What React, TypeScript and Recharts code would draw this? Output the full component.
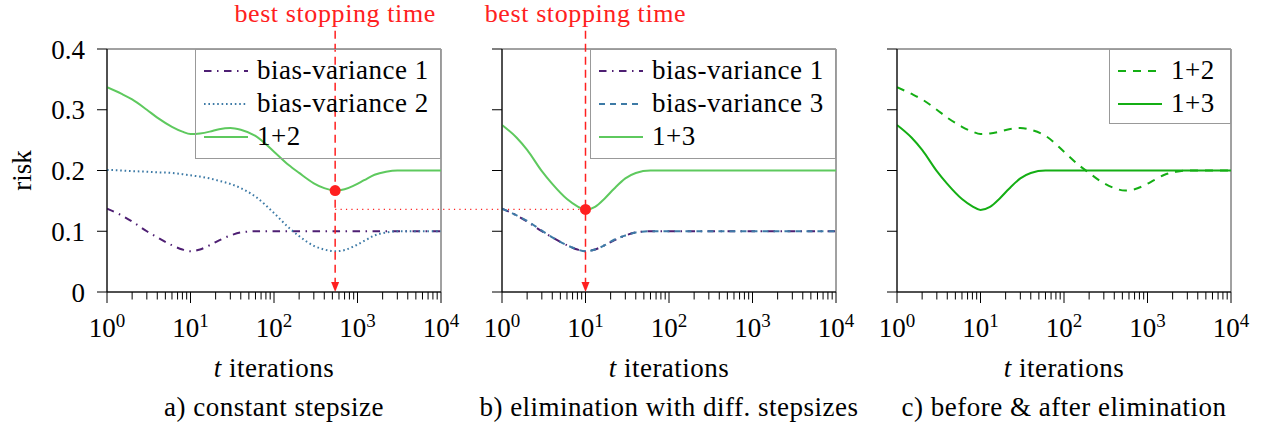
import {
    LineChart,
    Line,
    XAxis,
    YAxis,
    Label,
    Legend,
    ReferenceArea,
    ReferenceLine,
    ReferenceDot,
} from "recharts";

// sample points along the log-scaled iteration axis
const tValues = [
    1, 1.5, 2, 3, 4, 6, 8, 10, 13, 17, 22, 30, 40, 60, 100, 150, 200, 300,
    400, 540, 700, 900, 1200, 1600, 2200, 3000, 5000, 10000,
];

const biasVar1 = [
    0.137, 0.126, 0.116, 0.1, 0.09, 0.077, 0.07, 0.067, 0.07, 0.077, 0.085,
    0.093, 0.098, 0.1, 0.1, 0.1, 0.1, 0.1, 0.1, 0.1, 0.1, 0.1, 0.1, 0.1, 0.1,
    0.1, 0.1, 0.1,
];

const biasVar2 = [
    0.201, 0.2, 0.199, 0.198, 0.197, 0.196, 0.194, 0.192, 0.19, 0.187, 0.183,
    0.178, 0.171, 0.157, 0.13, 0.106, 0.092, 0.076, 0.07, 0.067, 0.069, 0.075,
    0.084, 0.093, 0.098, 0.1, 0.1, 0.1,
];

const sum12 = [
    0.337, 0.326, 0.317, 0.3, 0.287, 0.272, 0.264, 0.26, 0.261, 0.264, 0.268,
    0.27, 0.267, 0.257, 0.231, 0.209, 0.196, 0.179, 0.171, 0.167, 0.169,
    0.175, 0.184, 0.193, 0.198, 0.2, 0.2, 0.2,
];

const biasVar3 = [
    0.137, 0.126, 0.117, 0.101, 0.09, 0.077, 0.07, 0.067, 0.07, 0.077, 0.086,
    0.093, 0.098, 0.1, 0.1, 0.1, 0.1, 0.1, 0.1, 0.1, 0.1, 0.1, 0.1, 0.1, 0.1,
    0.1, 0.1, 0.1,
];

const sum13 = [
    0.275, 0.254, 0.234, 0.199, 0.178, 0.153, 0.141, 0.135, 0.14, 0.154, 0.17,
    0.187, 0.196, 0.2, 0.2, 0.2, 0.2, 0.2, 0.2, 0.2, 0.2, 0.2, 0.2, 0.2, 0.2,
    0.2, 0.2, 0.2,
];

const yTicks = [0, 0.1, 0.2, 0.3, 0.4];
const majorTicks = [1, 10, 100, 1000, 10000];
const minorSteps = [2, 3, 4, 5, 6, 7, 8, 9];
const xTicks = majorTicks.flatMap((d) =>
    d < 10000 ? [d, ...minorSteps.map((k) => k * d)] : [d]
);

// best stopping times (a: 1+2, b: 1+3)
const stopA = { t: 540, risk: 0.167 };
const stopB = { t: 10, risk: 0.136 };
const linkEndT = 5.2e5; // dotted link runs over into panel b

const data = tValues.map((t, i) => ({
    t,
    bv1: biasVar1[i],
    bv2: biasVar2[i],
    sum12: sum12[i],
    bv3: biasVar3[i],
    sum13: sum13[i],
}));

const FONT = "'Liberation Serif', 'Times New Roman', serif";
const RED = "#ff2020";
const PURPLE = "#4e1f73";
const BLUE = "#3d7aa6";
const GREEN = "#5ec95e";
const DARK_GREEN = "#14ae14";

const TOP = 49;
const PLOT_W = 334;
const PLOT_H = 243;
const PAD_L = 47;
const AXIS_W = 60;
const H = 430;

type LegendItem = { label: string; color: string; dash?: string };

function LogTick(props: any) {
    const { x, y, payload } = props;
    const lg = Math.log10(payload.value);
    const e = Math.round(lg);
    const major = Math.abs(lg - e) < 1e-9;
    return (
        <g>
            <line x1={x} x2={x} y1={y} y2={y + (major ? 11 : 7.5)} stroke="#000" />
            {major && (
                <text x={x} y={y + 45} textAnchor="middle" fontSize={27} fill="#000">
                    <tspan>10</tspan>
                    <tspan dy={-10} fontSize={19}>
                        {e}
                    </tspan>
                </text>
            )}
        </g>
    );
}

function NoTick() {
    return <g />;
}

function StopShape(props: any) {
    const x = props.x1;
    const top = Math.min(props.y1, props.y2);
    const bottom = Math.max(props.y1, props.y2);
    return (
        <g>
            <text
                x={x}
                y={top - 9}
                textAnchor="middle"
                fill={RED}
                fontSize={26}
                letterSpacing={0.6}
            >
                best stopping time
            </text>
            <line
                x1={x}
                x2={x}
                y1={top}
                y2={bottom - 9}
                stroke={RED}
                strokeWidth={1.5}
                strokeDasharray="8 5"
            />
            <polygon
                points={`${x - 4},${bottom - 10} ${x + 4},${bottom - 10} ${x},${bottom}`}
                fill={RED}
            />
        </g>
    );
}

function legendBox(items: LegendItem[], w: number, h: number) {
    return () => (
        <svg width={w} height={h} style={{ display: "block", overflow: "visible" }}>
            <rect x={0.5} y={0.5} width={w - 1} height={h - 1} fill="none" stroke="#999" />
            {items.map((it, i) => {
                const cy = 22 + i * 33;
                return (
                    <g key={it.label}>
                        <line
                            x1={9}
                            x2={53}
                            y1={cy}
                            y2={cy}
                            stroke={it.color}
                            strokeWidth={2}
                            strokeDasharray={it.dash}
                        />
                        <text
                            x={62}
                            y={cy + 8}
                            fontSize={27}
                            letterSpacing={0.5}
                            fill="#000"
                            fontFamily={FONT}
                        >
                            {it.label}
                        </text>
                    </g>
                );
            })}
        </svg>
    );
}

function xLabel(caption: string) {
    return (props: any) => {
        const { x, y, width } = props.viewBox;
        const cx = x + width / 2;
        return (
            <g>
                <text x={cx} y={y + 85} textAnchor="middle" fontSize={27} fill="#000" letterSpacing={0.5}>
                    <tspan fontStyle="italic">t</tspan> iterations
                </text>
                <text x={cx} y={y + 124} textAnchor="middle" fontSize={27} fill="#000" letterSpacing={0.5}>
                    {caption}
                </text>
            </g>
        );
    };
}

function riskLabel(props: any) {
    const { y, height } = props.viewBox;
    const cy = y + height / 2;
    return (
        <text
            x={31}
            y={cy}
            transform={`rotate(-90 31 ${cy})`}
            textAnchor="middle"
            fontSize={27}
            fill="#000"
        >
            risk
        </text>
    );
}

type PanelProps = {
    width: number;
    caption: string;
    yLabels?: boolean;
    legend: LegendItem[];
    legendLeft: number;
    legendHeight: number;
    children?: React.ReactNode;
};

function Panel({
    width,
    caption,
    yLabels,
    legend,
    legendLeft,
    legendHeight,
    children,
}: PanelProps) {
    const right = width - PAD_L - AXIS_W - PLOT_W;
    const legendW = PAD_L + AXIS_W + PLOT_W - legendLeft;
    return (
        <LineChart
            width={width}
            height={H}
            data={data}
            margin={{ top: TOP, left: PAD_L, right, bottom: 0 }}
        >
            <XAxis
                dataKey="t"
                type="number"
                scale="log"
                domain={[1, 10000]}
                ticks={xTicks}
                interval={0}
                tickSize={0}
                tickMargin={0}
                tick={<LogTick />}
                axisLine={{ stroke: "#000" }}
                height={H - TOP - PLOT_H}
                allowDataOverflow
            >
                <Label content={xLabel(caption)} />
            </XAxis>
            <YAxis
                type="number"
                domain={[0, 0.4]}
                ticks={yTicks}
                interval={0}
                width={AXIS_W}
                tickSize={10}
                tickMargin={12}
                tickLine={{ stroke: "#000" }}
                axisLine={{ stroke: "#000" }}
                tick={yLabels ? { fill: "#000", fontSize: 27 } : <NoTick />}
                allowDataOverflow
            >
                {yLabels && <Label content={riskLabel} />}
            </YAxis>
            <ReferenceArea
                x1={1}
                x2={10000}
                y1={0}
                y2={0.4}
                fill="none"
                stroke="#444"
                strokeWidth={1}
            />
            <Legend
                layout="vertical"
                align="center"
                verticalAlign="middle"
                wrapperStyle={{
                    left: legendLeft,
                    top: TOP,
                    width: legendW,
                    height: legendHeight,
                }}
                content={legendBox(legend, legendW, legendHeight)}
            />
            {children}
        </LineChart>
    );
}

export default function App() {
    return (
        <div
            style={{
                position: "absolute",
                left: 0,
                top: 0,
                width: 1265,
                height: H,
                background: "#fff",
                fontFamily: FONT,
            }}
        >
            <div style={{ position: "absolute", left: 0, top: 0 }}>
                <Panel
                    width={600}
                    caption="a) constant stepsize"
                    yLabels
                    legendLeft={195}
                    legendHeight={110}
                    legend={[
                        { label: "bias-variance 1", color: PURPLE, dash: "7.5 5.5 1.5 5.5" },
                        { label: "bias-variance 2", color: BLUE, dash: "1.6 2.8" },
                        { label: "1+2", color: GREEN },
                    ]}
                >
                    <Line type="monotone" dataKey="bv1" stroke={PURPLE} strokeWidth={2} strokeDasharray="7.5 5.5 1.5 5.5" dot={false} isAnimationActive={false} />
                    <Line type="monotone" dataKey="bv2" stroke={BLUE} strokeWidth={2} strokeDasharray="1.6 2.8" dot={false} isAnimationActive={false} />
                    <Line type="monotone" dataKey="sum12" stroke={GREEN} strokeWidth={2} dot={false} isAnimationActive={false} />
                    <ReferenceLine
                        segment={[
                            { x: stopA.t, y: stopB.risk },
                            { x: linkEndT, y: stopB.risk },
                        ]}
                        stroke={RED}
                        strokeWidth={1.2}
                        strokeDasharray="1.2 4.2"
                        ifOverflow="visible"
                    />
                    <ReferenceLine
                        segment={[
                            { x: stopA.t, y: 0 },
                            { x: stopA.t, y: 0.43 },
                        ]}
                        ifOverflow="visible"
                        shape={<StopShape />}
                    />
                    <ReferenceDot x={stopA.t} y={stopA.risk} r={5.5} fill={RED} stroke="none" ifOverflow="visible" />
                </Panel>
            </div>
            <div style={{ position: "absolute", left: 395, top: 0 }}>
                <Panel
                    width={490}
                    caption="b) elimination with diff. stepsizes"
                    legendLeft={195}
                    legendHeight={110}
                    legend={[
                        { label: "bias-variance 1", color: PURPLE, dash: "7.5 5.5 1.5 5.5" },
                        { label: "bias-variance 3", color: BLUE, dash: "6 5" },
                        { label: "1+3", color: GREEN },
                    ]}
                >
                    <Line type="monotone" dataKey="bv1" stroke={PURPLE} strokeWidth={2} strokeDasharray="7.5 5.5 1.5 5.5" dot={false} isAnimationActive={false} />
                    <Line type="monotone" dataKey="bv3" stroke={BLUE} strokeWidth={2} strokeDasharray="6 5" dot={false} isAnimationActive={false} />
                    <Line type="monotone" dataKey="sum13" stroke={GREEN} strokeWidth={2} dot={false} isAnimationActive={false} />
                    <ReferenceLine
                        segment={[
                            { x: stopB.t, y: 0 },
                            { x: stopB.t, y: 0.43 },
                        ]}
                        ifOverflow="visible"
                        shape={<StopShape />}
                    />
                    <ReferenceDot x={stopB.t} y={stopB.risk} r={5.5} fill={RED} stroke="none" ifOverflow="visible" />
                </Panel>
            </div>
            <div style={{ position: "absolute", left: 790, top: 0 }}>
                <Panel
                    width={470}
                    caption="c) before & after elimination"
                    legendLeft={319}
                    legendHeight={75}
                    legend={[
                        { label: "1+2", color: DARK_GREEN, dash: "8 7" },
                        { label: "1+3", color: DARK_GREEN },
                    ]}
                >
                    <Line type="monotone" dataKey="sum12" stroke={DARK_GREEN} strokeWidth={2} strokeDasharray="8 7" dot={false} isAnimationActive={false} />
                    <Line type="monotone" dataKey="sum13" stroke={DARK_GREEN} strokeWidth={2} dot={false} isAnimationActive={false} />
                </Panel>
            </div>
        </div>
    );
}
